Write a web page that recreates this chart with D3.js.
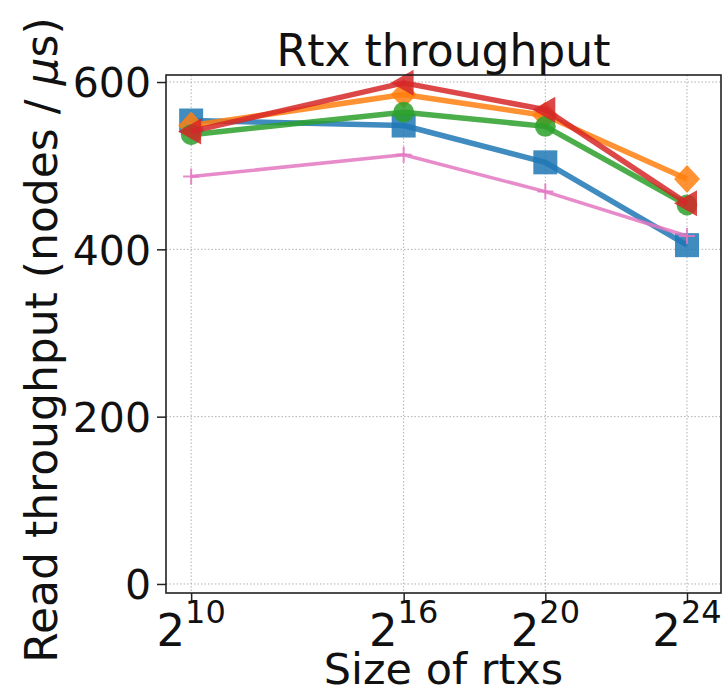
<!DOCTYPE html>
<html>
<head>
<meta charset="utf-8">
<script src="https://cdn.jsdelivr.net/npm/d3@7"></script>
<style>
  body { margin: 0; background: #fff; }
  text { font-family: "DejaVu Sans", sans-serif; fill: #111; }
</style>
</head>
<body>
<div class="chart"></div>
<script>
// data
var sizes = [Math.pow(2, 10), Math.pow(2, 16), Math.pow(2, 20), Math.pow(2, 24)];
var xTickExp = [10, 16, 20, 24];
var yTicks = [0, 200, 400, 600];

var blueVals   = [554, 548, 504, 405];
var orangeVals = [548, 585, 560, 484];
var greenVals  = [537, 564, 547, 453];
var redVals    = [541, 599, 567, 455];
var pinkVals   = [487, 513, 469, 416];

var seriesNames  = ["blue", "orange", "green", "red", "pink"];
var seriesColors = ["#1f77b4", "#ff7f0e", "#2ca02c", "#d62728", "#e377c2"];
var seriesMarks  = ["square", "diamond", "circle", "triangleLeft", "plus"];
var seriesVals   = [blueVals, orangeVals, greenVals, redVals, pinkVals];

var width = 724, height = 695;
var pLeft = 166, pRight = 721, pTop = 75, pBottom = 593;

var svg = d3.select(".chart").append("svg")
            .attr("width", width)
            .attr("height", height);

var x = d3.scaleLog().base(2)
          .domain([Math.pow(2, 9.29), Math.pow(2, 24.96)])
          .range([pLeft, pRight]);

var y = d3.scaleLinear()
          .domain([-10.8, 608.4])
          .range([pBottom, pTop]);

// grid
svg.append("g").selectAll("line")
   .data(sizes).enter().append("line")
   .attr("x1", function(d) { return x(d); })
   .attr("x2", function(d) { return x(d); })
   .attr("y1", pTop).attr("y2", pBottom)
   .attr("stroke", "#b0b0b0")
   .attr("stroke-width", 1)
   .attr("stroke-dasharray", "1.5,2");

svg.append("g").selectAll("line")
   .data(yTicks).enter().append("line")
   .attr("x1", pLeft).attr("x2", pRight)
   .attr("y1", function(d) { return y(d); })
   .attr("y2", function(d) { return y(d); })
   .attr("stroke", "#b0b0b0")
   .attr("stroke-width", 1)
   .attr("stroke-dasharray", "1.5,2");

// axes
var yAxis = d3.axisLeft(y).tickValues(yTicks).tickSize(9).tickPadding(6);
var gy = svg.append("g").attr("transform", "translate(" + pLeft + ",0)").call(yAxis);
gy.select(".domain").remove();
gy.selectAll("line").attr("stroke", "#222").attr("stroke-width", 1.5);
gy.selectAll("text")
  .style("font-family", "DejaVu Sans")
  .style("font-size", "41px")
  .attr("dy", "0.36em")
  .attr("fill", "#111");

var xAxis = d3.axisBottom(x).tickValues(sizes).tickSize(8).tickFormat("");
var gx = svg.append("g").attr("transform", "translate(0," + pBottom + ")").call(xAxis);
gx.select(".domain").remove();
gx.selectAll("line").attr("stroke", "#222").attr("stroke-width", 1.5);

// 2^n tick labels with superscripts
var xl = svg.append("g").selectAll("text")
            .data(sizes).enter().append("text")
            .attr("x", function(d) { return x(d); })
            .attr("y", 646)
            .attr("text-anchor", "middle")
            .style("font-size", "45px");
xl.append("tspan").text("2");
xl.append("tspan")
  .attr("dy", -23)
  .style("font-size", "32px")
  .text(function(d, i) { return xTickExp[i]; });

// lines and markers
var line = d3.line()
             .x(function(d, i) { return x(sizes[i]); })
             .y(function(d) { return y(d); });

function markerPath(kind) {
  if (kind == "square") return "M-12,-12H12V12H-12Z";
  if (kind == "diamond") return "M0,-14L13,0L0,14L-13,0Z";
  if (kind == "circle") return d3.symbol().type(d3.symbolCircle).size(340)();
  if (kind == "triangleLeft") return "M-13,0L10,-13L10,13Z";
  return "M-8,0H8M0,-8V8";
}

seriesVals.forEach(function(vals, s) {
  var g = svg.append("g").attr("class", "series-" + seriesNames[s]);
  var isPlus = seriesMarks[s] == "plus";
  g.append("path")
   .datum(vals)
   .attr("d", line)
   .attr("fill", "none")
   .attr("stroke", seriesColors[s])
   .attr("stroke-opacity", 0.85)
   .attr("stroke-width", isPlus ? 3.5 : 5.5)
   .attr("stroke-linejoin", "round");
  g.selectAll("path.m")
   .data(vals).enter().append("path")
   .attr("class", "m")
   .attr("transform", function(d, i) { return "translate(" + x(sizes[i]) + "," + y(d) + ")"; })
   .attr("d", markerPath(seriesMarks[s]))
   .attr("fill", isPlus ? "none" : seriesColors[s])
   .attr("fill-opacity", 0.85)
   .attr("stroke", seriesColors[s])
   .attr("stroke-opacity", 0.85)
   .attr("stroke-width", isPlus ? 2 : 0);
});

// frame
svg.append("rect")
   .attr("x", pLeft).attr("y", pTop)
   .attr("width", pRight - pLeft).attr("height", pBottom - pTop)
   .attr("fill", "none")
   .attr("stroke", "#222")
   .attr("stroke-width", 1.6);

// title and labels
svg.append("text")
   .attr("x", (pLeft + pRight) / 2).attr("y", 66)
   .attr("text-anchor", "middle")
   .style("font-size", "44px")
   .text("Rtx throughput");

svg.append("text")
   .attr("x", (pLeft + pRight) / 2).attr("y", 684)
   .attr("text-anchor", "middle")
   .style("font-size", "43px")
   .text("Size of rtxs");

var yl = svg.append("text")
   .attr("transform", "translate(57,340) rotate(-90)")
   .attr("text-anchor", "middle")
   .style("font-size", "44px");
yl.append("tspan").text("Read throughput (nodes / ");
yl.append("tspan").style("font-style", "italic").text("μ");
yl.append("tspan").text("s)");
</script>
</body>
</html>
